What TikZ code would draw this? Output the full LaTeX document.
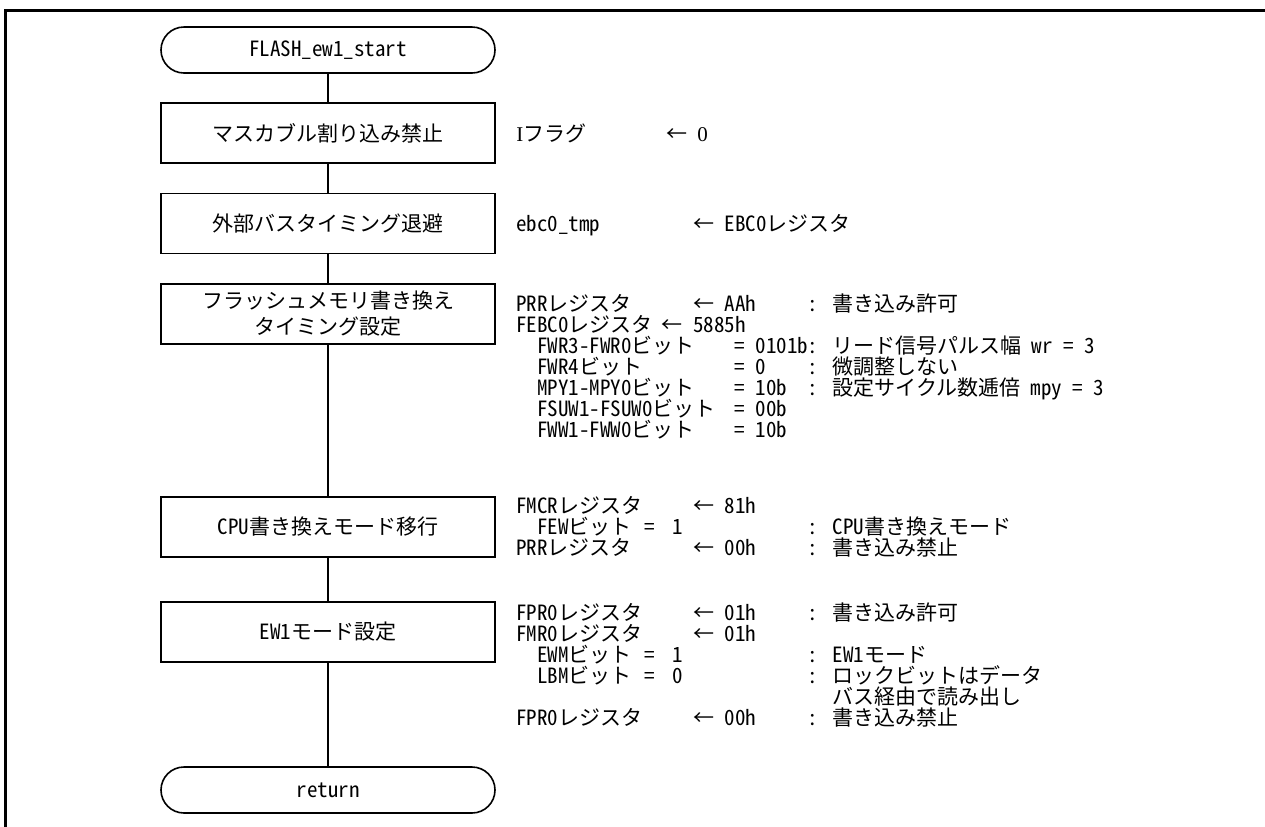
\documentclass[tikz,border=0pt]{standalone}
\usepackage{fontspec}
\setmainfont{Noto Sans CJK JP}[RawFeature=+hwid]
\newfontfamily\jpfont{Noto Sans CJK JP}
\newfontfamily\latfont{Noto Sans CJK JP}[RawFeature=+hwid]
\newfontfamily\serfont{Liberation Serif}
\XeTeXinterchartokenstate=1
\newXeTeXintercharclass\jpcls
\makeatletter
\def\setjprange#1#2{\count@=#1\relax\loop\XeTeXcharclass\count@=\jpcls\relax\ifnum\count@<#2\relax\advance\count@\@ne\repeat}
\setjprange{"2190}{"2193}
\setjprange{"3000}{"30FF}
\setjprange{"4E00}{"9FFF}
\setjprange{"FF00}{"FFEF}
\makeatother
\XeTeXinterchartoks 0 \jpcls = {\jpfont}
\XeTeXinterchartoks 4095 \jpcls = {\jpfont}
\XeTeXinterchartoks \jpcls 0 = {\latfont}
\XeTeXinterchartoks \jpcls 4095 = {\latfont}
\newlength\colu
\setlength\colu{5.2pt}
\newcommand\fs{\fontsize{10.5pt}{13pt}\selectfont\spaceskip=5.2pt\relax}
% place text at a column (half-width character cells from the line start)
\newcommand\cc[2]{\makebox[0pt][l]{\hspace*{#1\colu}#2}}
% colon column and comment column
\newcommand\cm[1]{\cc{28}{\makebox[\colu][c]{:}}\cc{30.4}{#1}}
\begin{document}
\begin{tikzpicture}[x=0.5pt,y=-0.5pt,
  every node/.style={font=\fs},
  proc/.style={draw, line width=0.8pt, minimum width=167pt, minimum height=30pt, inner sep=0pt, align=center},
  term/.style={draw, line width=0.8pt, rounded corners=11.5pt, minimum width=167pt, minimum height=23pt, inner sep=0pt},
  txt/.style={anchor=base west, inner sep=0pt},
  link/.style={line width=0.8pt}]
\useasboundingbox (0,0) rectangle (1265,826);
\fill[white] (0,0) rectangle (1265,826);
\draw[line width=1.5pt] (5.5,840) -- (5.5,10) -- (1280,10);

% flow column
\node[term] (st) at (328,50) {FLASH\_ew1\_start};
\node[proc] (p1) at (328,133) {マスカブル割り込み禁止};
\node[proc] (p2) at (328,223.5) {外部バスタイミング退避};
\node[proc] (p3) at (328,314) {フラッシュメモリ書き換え\\タイミング設定};
\node[proc] (p4) at (328,527) {CPU書き換えモード移行};
\node[proc] (p5) at (328,632) {EW1モード設定};
\node[term] (rt) at (328,790) {return};
\draw[link] (st.south) -- (p1.north);
\draw[link] (p1.south) -- (p2.north);
\draw[link] (p2.south) -- (p3.north);
\draw[link] (p3.south) -- (p4.north);
\draw[link] (p4.south) -- (p5.north);
\draw[link] (p5.south) -- (rt.north);

% block 1
\node[txt] (a1) at (515,133+8) {\cc{0}{{\serfont I}フラグ}\cc{14.4}{←}\cc{17.4}{{\serfont 0}}};
% block 2
\node[txt] (b1) at (515,223+8) {\cc{0}{ebc0\_tmp}\cc{17}{← EBC0レジスタ}};
% block 3
\node[txt] (c1) at (515,303+8) {\cc{0}{PRRレジスタ}\cc{17}{← AAh}\cm{書き込み許可}};
\node[txt] (c2) at (515,324+8) {\cc{0}{FEBC0レジスタ}\cc{14}{← 5885h}};
\node[txt] (c3) at (515,345+8) {\cc{2}{FWR3-FWR0ビット}\cc{21}{=}\cc{23}{0101b}\cm{リード信号パルス幅 wr = 3}};
\node[txt] (c4) at (515,366+8) {\cc{2}{FWR4ビット}\cc{21}{=}\cc{23}{0}\cm{微調整しない}};
\node[txt] (c5) at (515,387+8) {\cc{2}{MPY1-MPY0ビット}\cc{21}{=}\cc{23}{10b}\cm{設定サイクル数逓倍 mpy = 3}};
\node[txt] (c6) at (515,408+8) {\cc{2}{FSUW1-FSUW0ビット}\cc{21}{=}\cc{23}{00b}};
\node[txt] (c7) at (515,429+8) {\cc{2}{FWW1-FWW0ビット}\cc{21}{=}\cc{23}{10b}};
% block 4
\node[txt] (d1) at (515,505+8) {\cc{0}{FMCRレジスタ}\cc{17}{← 81h}};
\node[txt] (d2) at (515,526+8) {\cc{2}{FEWビット}\cc{12.3}{=}\cc{15}{1}\cm{CPU書き換えモード}};
\node[txt] (d3) at (515,547+8) {\cc{0}{PRRレジスタ}\cc{17}{← 00h}\cm{書き込み禁止}};
% block 5
\node[txt] (e1) at (515,612+8) {\cc{0}{FPR0レジスタ}\cc{17}{← 01h}\cm{書き込み許可}};
\node[txt] (e2) at (515,633+8) {\cc{0}{FMR0レジスタ}\cc{17}{← 01h}};
\node[txt] (e3) at (515,654+8) {\cc{2}{EWMビット}\cc{12.3}{=}\cc{15}{1}\cm{EW1モード}};
\node[txt] (e4) at (515,675+8) {\cc{2}{LBMビット}\cc{12.3}{=}\cc{15}{0}\cm{ロックビットはデータ}};
\node[txt] (e5) at (515,696+8) {\cc{30.4}{バス経由で読み出し}};
\node[txt] (e6) at (515,717+8) {\cc{0}{FPR0レジスタ}\cc{17}{← 00h}\cm{書き込み禁止}};
\end{tikzpicture}
\end{document}
